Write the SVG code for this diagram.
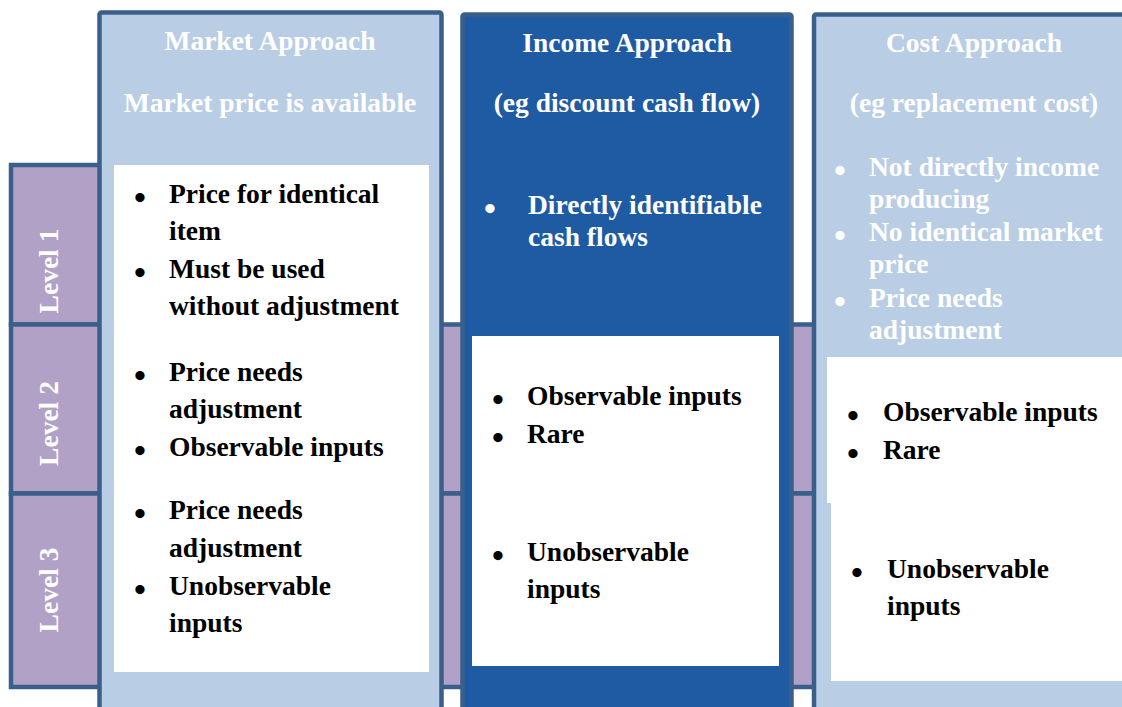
<svg xmlns="http://www.w3.org/2000/svg" width="1122" height="707" viewBox="0 0 1122 707">
<style>
.row{fill:#B2A1C7;stroke:#3A5F8B;stroke-width:4.5}
.col{stroke:#3A5F8B;stroke-width:4.5}
.light{fill:#B9CDE5}
.dark{fill:#1F5BA3}
.box{fill:#FFFFFF}
text{font-family:"Liberation Serif","Times New Roman",serif;font-weight:bold;font-size:27.5px}
text.b{font-size:34px}
.w{fill:#FFFFFF}
.k{fill:#000000}
.c{text-anchor:middle}
.lvl{fill:#FFFFFF;text-anchor:middle}
</style>
<rect width="1122" height="707" fill="#FFFFFF"/>
<g id="level1">
<rect class="row" x="11" y="165" width="200" height="159.5"/>
<text class="lvl" transform="translate(58 271) rotate(-90)">Level 1</text>
</g>
<g id="level2">
<rect class="row" x="11" y="324.5" width="1140" height="169"/>
<text class="lvl" transform="translate(58 423.5) rotate(-90)">Level 2</text>
</g>
<g id="level3">
<rect class="row" x="11" y="493.5" width="1140" height="193.5"/>
<text class="lvl" transform="translate(58 590) rotate(-90)">Level 3</text>
</g>
<g id="market">
<rect class="col light" x="99.5" y="12.5" width="342" height="720" rx="2"/>
<rect class="box" x="114" y="165" width="315" height="507"/>
<text class="w c" x="270" y="50">Market Approach</text>
<text class="w c" x="270" y="112">Market price is available</text>
<g class="k">
<text class="b" x="134" y="209">•</text><text x="169" y="203">Price for identical</text>
<text x="169" y="240">item</text>
<text class="b" x="134" y="284">•</text><text x="169" y="278">Must be used</text>
<text x="169" y="315">without adjustment</text>
<text class="b" x="134" y="387">•</text><text x="169" y="381">Price needs</text>
<text x="169" y="418">adjustment</text>
<text class="b" x="134" y="462">•</text><text x="169" y="456">Observable inputs</text>
<text class="b" x="134" y="525">•</text><text x="169" y="519">Price needs</text>
<text x="169" y="557">adjustment</text>
<text class="b" x="134" y="601">•</text><text x="169" y="595">Unobservable</text>
<text x="169" y="632">inputs</text>
</g>
</g>
<g id="income">
<rect class="col dark" x="462.5" y="14.5" width="329" height="720" rx="2"/>
<rect class="box" x="472" y="336" width="307" height="330"/>
<text class="w c" x="627" y="52">Income Approach</text>
<text class="w c" x="627" y="112">(eg discount cash flow)</text>
<g class="w">
<text class="b" x="484" y="220">•</text><text x="528" y="214">Directly identifiable</text>
<text x="528" y="246">cash flows</text>
</g>
<g class="k">
<text class="b" x="492" y="411">•</text><text x="527" y="405">Observable inputs</text>
<text class="b" x="492" y="449">•</text><text x="527" y="443">Rare</text>
<text class="b" x="492" y="567">•</text><text x="527" y="561">Unobservable</text>
<text x="527" y="598">inputs</text>
</g>
</g>
<g id="cost">
<rect class="col light" x="814" y="14.5" width="340" height="720" rx="2"/>
<rect class="box" x="827" y="357" width="300" height="146"/>
<rect class="box" x="831" y="503" width="296" height="178"/>
<text class="w c" x="974" y="52">Cost Approach</text>
<text class="w c" x="974" y="112">(eg replacement cost)</text>
<g class="w">
<text class="b" x="834" y="182">•</text><text x="869" y="176">Not directly income</text>
<text x="869" y="208">producing</text>
<text class="b" x="834" y="247">•</text><text x="869" y="241">No identical market</text>
<text x="869" y="273">price</text>
<text class="b" x="834" y="313">•</text><text x="869" y="307">Price needs</text>
<text x="869" y="339">adjustment</text>
</g>
<g class="k">
<text class="b" x="847" y="427">•</text><text x="883" y="421">Observable inputs</text>
<text class="b" x="847" y="465">•</text><text x="883" y="459">Rare</text>
<text class="b" x="851" y="584">•</text><text x="887" y="578">Unobservable</text>
<text x="887" y="615">inputs</text>
</g>
</g>
</svg>
